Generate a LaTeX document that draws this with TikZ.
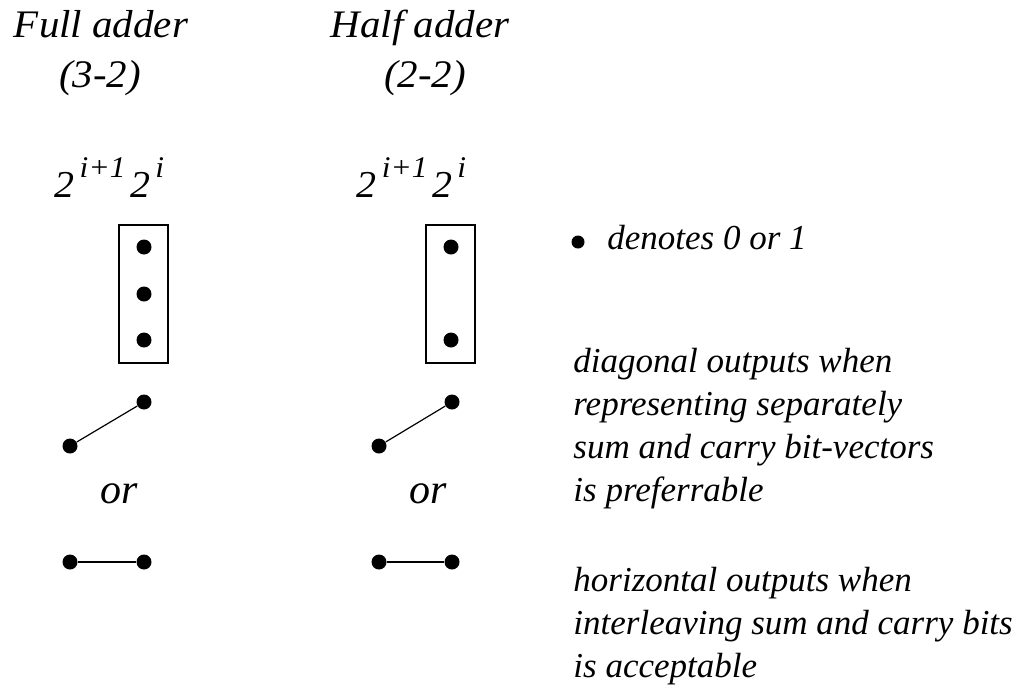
\documentclass[tikz,border=0pt]{standalone}
\usepackage{fontspec}
\setmainfont{Liberation Serif}
\newfontfamily\labelfont[FakeStretch=1.05]{Liberation Serif}
% column weights 2^{i+1} 2^i
\newcommand{\weightexp}[1]{\kern2.5pt\raisebox{10pt}{\fontsize{15}{16}\selectfont #1}\kern2.5pt}
\newcommand{\weights}{2\weightexp{i+1}2\weightexp{i}}
\begin{document}
\begin{tikzpicture}[x=0.5pt,y=-0.5pt,
  bit/.style={circle,fill,inner sep=0pt,minimum size=7.5pt},
  head/.style={font=\labelfont\itshape\fontsize{19.5}{22}\selectfont,inner sep=0pt,anchor=base},
  weight/.style={font=\labelfont\itshape\fontsize{19}{22}\selectfont,inner sep=0pt,anchor=base},
  alt/.style={font=\itshape\fontsize{21}{24}\selectfont,inner sep=0pt,anchor=base},
  note/.style={font=\itshape\fontsize{17.5}{21.4}\selectfont,align=left,inner sep=0pt,anchor=base west},
  column/.style={draw,line width=1.3pt,minimum width=24.5pt,minimum height=69pt,inner sep=0pt},
  wire/.style={line width=0.6pt}]
\useasboundingbox (0,0) rectangle (1027,693);

% full adder
\node[head] (fatitle) at (101,37) {Full adder};
\node[head] (fatype) at (100,87) {(3-2)};
\node[weight] (faweight) at (112,197) {\weights};
\node[column] (fabox) at (143.5,294) {};
\foreach \y [count=\k] in {247,294,340}
  \node[bit] (fa\k) at (144,\y) {};
\node[bit] (fasum) at (70,446) {};
\node[bit] (facarry) at (144,402) {};
\draw[wire] (fasum) -- (facarry);
\node[alt] (faor) at (119,503) {or};
\node[bit] (fasumh) at (70,562) {};
\node[bit] (facarryh) at (144,562) {};
\draw[wire] (fasumh) -- (facarryh);

% half adder
\node[head] (hatitle) at (420,37) {Half adder};
\node[head] (hatype) at (425,87) {(2-2)};
\node[weight] (haweight) at (414,197) {\weights};
\node[column] (habox) at (450.5,294) {};
\foreach \y [count=\k] in {247,340}
  \node[bit] (ha\k) at (451,\y) {};
\node[bit] (hasum) at (379,446) {};
\node[bit] (hacarry) at (452,402) {};
\draw[wire] (hasum) -- (hacarry);
\node[alt] (haor) at (428,503) {or};
\node[bit] (hasumh) at (379,562) {};
\node[bit] (hacarryh) at (452,562) {};
\draw[wire] (hasumh) -- (hacarryh);

% legend and remarks (base = last line)
\node[bit,minimum size=6.5pt] (key) at (578,242) {};
\node[note] (keytext) at (607,249) {denotes 0 or 1};
\node[note] (diagnote) at (573,501) {diagonal outputs when\\representing separately\\sum and carry bit-vectors\\is preferrable};
\node[note] (horiznote) at (573,677) {horizontal outputs when\\interleaving sum and carry bits\\is acceptable};
\end{tikzpicture}
\end{document}
